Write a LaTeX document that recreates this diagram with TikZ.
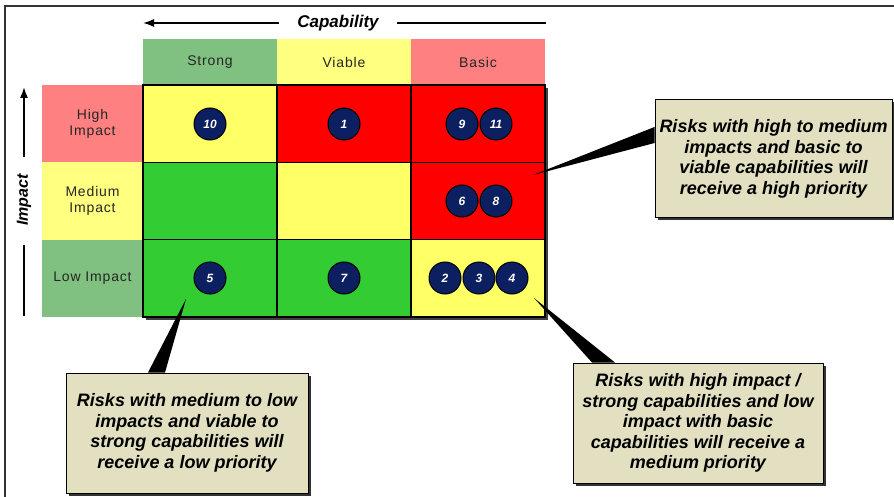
\documentclass[tikz,border=0pt]{standalone}
\usepackage{fontspec}
\setmainfont{Liberation Sans}
\newfontfamily\spacedfont[LetterSpace=6]{Liberation Sans}
\usetikzlibrary{shadows,arrows.meta}

\definecolor{hdrgreen}{RGB}{128,192,128}
\definecolor{hdryellow}{RGB}{255,255,128}
\definecolor{hdrred}{RGB}{255,128,128}
\definecolor{cellgreen}{RGB}{51,204,51}
\definecolor{cellyellow}{RGB}{255,255,102}
\definecolor{cellred}{RGB}{255,0,0}
\definecolor{riskblue}{RGB}{12,31,96}
\definecolor{notefill}{RGB}{226,224,193}

\begin{document}
\begin{tikzpicture}[
        x=1pt, y=-1pt,
        axis/.style={line width=1.6pt},
        hdr/.style={minimum width=134pt,minimum height=46pt,inner sep=0pt,align=center,text=black!85,font=\spacedfont\fontsize{14}{16}\selectfont},
        rowhdr/.style={hdr,minimum width=101pt,minimum height=77.33pt},
        cell/.style={draw=black,line width=1.2pt,minimum width=134pt,minimum height=77.33pt,inner sep=0pt},
        risk/.style={circle,draw=black,line width=1pt,fill=riskblue,minimum size=32pt,inner sep=0pt,text=white,font=\bfseries\itshape\fontsize{12}{12}\selectfont},
        note/.style={draw=black,line width=1pt,fill=notefill,align=center,inner sep=0pt,font=\bfseries\itshape\fontsize{18}{20.5}\selectfont,drop shadow={shadow xshift=2.5pt,shadow yshift=-2.5pt,opacity=1,fill=black!80}},
      ]

      \useasboundingbox (0,0) rectangle (894,497);
      \fill[white] (0,0) rectangle (894,497);
      \draw[line width=1.8pt,black!80] (5,497) -- (5,6) -- (894,6);

      \node[font=\bfseries\itshape\fontsize{17}{17}\selectfont] (cap) at (338,23) {Capability};
      \coordinate (capL) at (143,23);
      \coordinate (capR) at (546,23);
      \draw[axis,-{Latex[length=11pt,width=8pt]}] ([xshift=-15pt]cap.west) -- (capL);
      \draw[axis] ([xshift=15pt]cap.east) -- (capR);

      \node[rotate=90,font=\bfseries\itshape\fontsize{16}{16}\selectfont] (imp) at (24,200) {Impact};
      \coordinate (impT) at (24,87);
      \coordinate (impB) at (24,316);
      \draw[axis,-{Latex[length=11pt,width=8pt]}] ([yshift=14pt]imp.east) -- (impT);
      \draw[axis] ([yshift=-16pt]imp.west) -- (impB);

      \node[hdr,fill=hdrgreen] (strong) at (210,62) {Strong};
      \node[hdr,fill=hdryellow] (viable) at (344,62) {Viable};
      \node[hdr,fill=hdrred] (basic) at (478,62) {Basic};
      \node[rowhdr,fill=hdrred] (high) at (92.5,123.67) {High\\Impact};
      \node[rowhdr,fill=hdryellow] (medium) at (92.5,201) {Medium\\Impact};
      \node[rowhdr,fill=hdrgreen] (low) at (92.5,278.33) {Low Impact};

      \fill[black!75] (146,88) rectangle (548,320);
      \node[cell,fill=cellyellow] (hiS) at (210,123.67) {};
      \node[cell,fill=cellred] (hiV) at (344,123.67) {};
      \node[cell,fill=cellred] (hiB) at (478,123.67) {};
      \node[cell,fill=cellgreen] (mdS) at (210,201) {};
      \node[cell,fill=cellyellow] (mdV) at (344,201) {};
      \node[cell,fill=cellred] (mdB) at (478,201) {};
      \node[cell,fill=cellgreen] (loS) at (210,278.33) {};
      \node[cell,fill=cellgreen] (loV) at (344,278.33) {};
      \node[cell,fill=cellyellow] (loB) at (478,278.33) {};

      \node[risk] (r10) at (210,124) {10};
      \node[risk] (r1) at (344,124) {1};
      \node[risk] (r9) at (462,124) {9};
      \node[risk] (r11) at (496,124) {11};
      \node[risk] (r6) at (462,201) {6};
      \node[risk] (r8) at (496,201) {8};
      \node[risk] (r5) at (210,278) {5};
      \node[risk] (r7) at (344,278) {7};
      \node[risk] (r2) at (445,278) {2};
      \node[risk] (r3) at (479,278) {3};
      \node[risk] (r4) at (512,278) {4};

      \node[note,minimum width=237pt,minimum height=118pt] (hiNote) at (773.5,159)
        {Risks with high to medium\\impacts and basic to\\viable capabilities will\\receive a high priority};
      \node[note,minimum width=242pt,minimum height=120pt] (loNote) at (187,433)
        {Risks with medium to low\\impacts and viable to\\strong capabilities will\\receive a low priority};
      \node[note,minimum width=250pt,minimum height=120pt] (mdNote) at (698,423)
        {Risks with high impact /\\strong capabilities and low\\impact with basic\\capabilities will receive a\\medium priority};

      \coordinate (hiTip) at (533,175);
      \coordinate (loTip) at (186,299);
      \coordinate (mdTip) at (534,298);
      \fill (hiTip) -- ([yshift=32pt]hiNote.west) -- ([yshift=16pt]hiNote.west) -- cycle;
      \fill (loTip) -- ([xshift=-39pt]loNote.north) -- ([xshift=-22pt]loNote.north) -- cycle;
      \fill (mdTip) -- ([xshift=-106pt]mdNote.north) -- ([xshift=-83pt]mdNote.north) -- cycle;

    \end{tikzpicture}
\end{document}
